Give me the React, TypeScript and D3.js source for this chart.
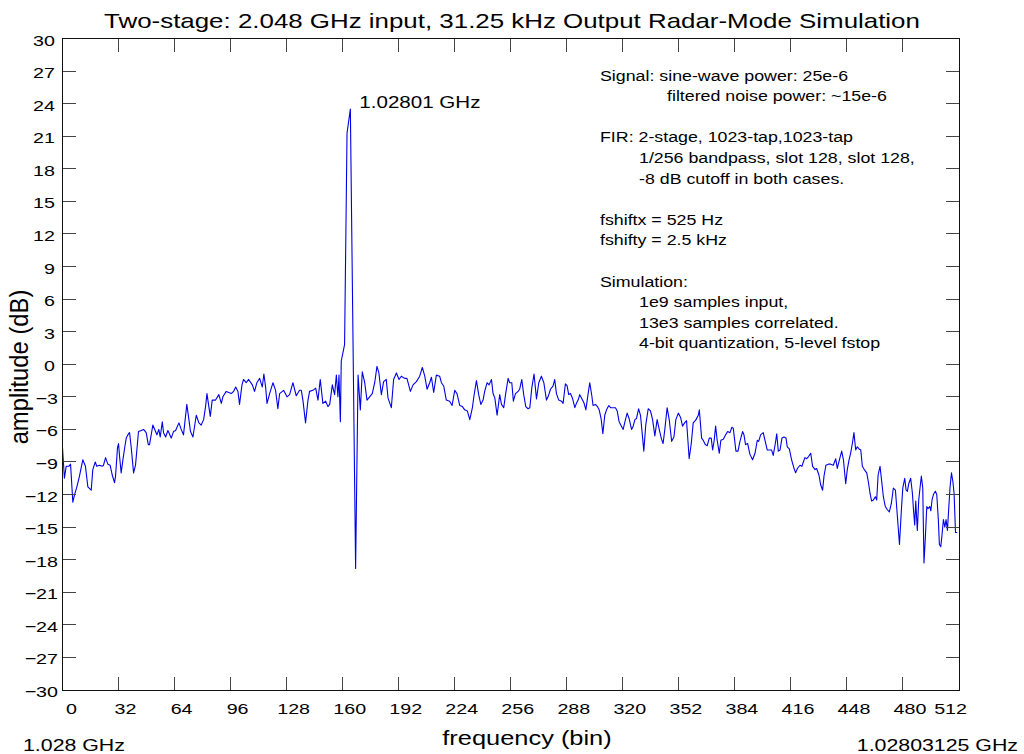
import React from "react";
import * as d3 from "d3";

// ---- data ----
const freqBins = [
  0, 1.1, 2.1, 3.6, 4.6, 5.9, 6.9, 8.2, 9.7, 11.2, 11.6, 13.1, 14.5, 15.8, 16.4, 17.3, 18.7, 19.6, 21.1, 22.7, 23.4, 24.6, 25.9, 27.2, 28.4, 29.7, 30.3, 31.4, 32.0, 32.6, 33.5, 34.5, 35.6, 36.4, 37.7, 38.3, 39.2, 40.6, 41.7, 43.4, 45.0, 46.3, 47.8, 49.0, 49.7, 51.6, 53.9, 55.0, 55.8, 57.0, 57.7, 58.9, 60.2, 62.1, 63.4, 64.6, 66.5, 67.8, 69.1, 71.0, 72.2, 73.1, 74.5, 76.4, 77.9, 79.2, 80.6, 81.7, 82.5, 84.4, 85.5, 87.4, 89.3, 90.7, 91.6, 93.5, 95.0, 96.4, 97.7, 98.9, 100.2, 101.1, 102.5, 103.4, 104.9, 106.3, 108.4, 109.7, 111.0, 112.6, 114.1, 115.0, 116.0, 116.8, 118.3, 120.2, 121.7, 123.0, 124.0, 126.3, 128.2, 129.7, 131.6, 133.5, 135.4,
  136.4, 137.3, 138.8, 140.2, 141.1, 143.0, 144.6, 145.9, 147.2, 148.7, 150.3, 151.6, 152.6, 154.1, 155.4, 156.4, 157.3, 157.9, 158.7, 159.2, 161.1, 162.5, 164.4, 167.4, 168.8, 170.1, 171.2, 172.6, 173.9, 175.4, 176.9, 178.3, 179.6, 180.7, 182.1, 183.4, 184.9, 185.9, 187.8, 189.1, 190.7, 192.2, 193.5, 195.4, 196.7, 198.7, 200.2, 202.1, 204.0,
  205.5, 206.9, 208.2, 209.7, 210.7, 212.0, 213.5, 215.4, 216.4, 217.7, 219.2, 221.1, 222.5, 224.0, 225.3, 226.9, 228.4, 229.7, 231.2, 232.6, 234.1, 235.0, 236.4, 237.7, 238.9, 240.2, 241.1, 242.5, 243.6, 245.0, 245.9, 246.9, 248.2, 249.7, 250.7, 252.0, 253.1, 254.5, 255.4, 256.6, 257.5, 258.7, 260.2, 261.1, 262.3, 263.4, 264.6, 265.9, 266.9, 268.0, 269.3, 270.7, 272.0, 273.5, 274.9, 276.4, 277.3, 278.7, 280.2, 281.1, 282.1, 283.4, 285.0, 285.9, 287.2, 288.2, 289.1, 290.1, 291.2, 292.6, 293.5, 294.5, 295.4, 297.0, 297.9, 298.9, 300.2, 301.1, 302.3, 303.0, 304.4, 305.5, 306.5, 307.6, 308.6, 309.7, 310.7, 312.0, 313.0, 314.5, 315.8, 316.8, 317.9, 319.2, 320.2, 321.5, 322.5, 323.6, 325.0, 325.9, 326.9, 327.8, 329.0, 330.1, 331.2, 332.0, 333.1, 334.5, 335.8, 337.0, 338.3, 339.6, 340.8, 342.1, 343.0, 344.0, 345.3, 346.5,
  347.9, 349.2, 350.3, 351.7, 353.0, 354.1, 355.3, 356.4, 357.9, 359.1, 360.2, 361.8, 363.1, 363.7, 365.0, 365.9, 367.1, 368.2, 369.4, 370.5, 371.3, 372.2, 373.0, 373.9, 375.1, 376.0, 377.4, 378.7, 379.9, 381.2, 382.3, 383.1, 384.6, 385.8, 386.9, 388.4, 389.2, 390.1, 391.3, 392.6, 394.1, 395.5, 396.8, 397.6, 398.7, 400.2, 401.2, 402.5, 404.0, 405.0, 405.9, 407.1, 407.9, 408.8, 409.8, 410.9, 412.0, 413.2, 413.9, 415.1, 416.4, 417.8, 418.7, 419.7, 421.2, 422.3, 423.1, 424.0, 425.0, 426.1, 427.3, 428.4, 429.8, 430.7, 432.0, 433.0, 434.1, 434.9, 436.0, 437.4, 438.7, 440.2, 441.6, 442.5, 443.7, 445.0, 446.0, 447.3, 448.2, 449.2, 450.1, 451.1, 452.0, 453.0, 453.9, 454.9, 455.9, 456.8, 457.9, 459.3, 460.2, 461.2, 462.1, 463.1, 464.2, 465.0, 465.8, 466.9, 468.0, 468.8, 469.9, 471.1, 472.2, 473.4, 474.5, 475.7, 476.8, 478.0, 479.1, 479.9, 481.0, 481.8, 482.5, 483.3, 484.4, 485.4, 486.0, 486.7, 487.3, 488.2, 489.0, 489.8, 490.5, 491.3, 492.0, 492.8, 493.6, 494.3, 495.3, 495.9, 496.6, 497.4, 498.5, 499.3, 500.2, 500.8, 501.6, 502.3, 503.1, 503.9, 504.6, 505.4, 506.2, 506.9, 507.7, 508.5, 509.2, 510.0, 511.0,
];

const amplitudeDb = [
  -7.7, -10.5, -9.4, -9.4, -9.2, -12.7, -12.0, -11.3, -10.3, -9.1, -8.8, -9.4, -11.3, -11.5, -11.6, -9.7, -9.0, -9.4, -9.3, -9.4, -9.3, -8.6, -9.2, -9.3, -10.2, -10.9, -10.3, -7.7, -7.3, -8.5, -10.0, -8.8, -7.6, -6.8, -6.4, -6.3, -7.6, -10.0, -9.3, -6.2, -6.1, -6.0, -6.3, -7.4, -7.4, -5.6, -6.5, -6.0, -6.7, -5.3, -6.3, -6.7, -6.1, -6.8, -6.2, -6.1, -5.4, -6.0, -6.5, -3.7, -5.1, -6.2, -6.7, -4.7, -5.4, -5.6, -5.1, -3.9, -2.7, -4.8, -3.3, -3.3, -2.8, -3.6, -3.0, -2.5, -2.6, -2.7, -2.5, -2.1, -2.5, -3.7, -1.9, -1.4, -1.7, -1.4, -1.9, -2.5, -1.7, -1.3, -2.1, -0.9, -2.1, -3.6, -2.7, -1.7, -2.4, -4.1, -2.7, -2.4, -3.0, -2.8, -1.7, -2.9, -2.4,
  -2.4, -3.3, -5.4, -3.3, -2.5, -2.4, -2.2, -3.3, -1.4, -3.6, -3.4, -3.9, -3.7, -1.9, -2.8, -1.0, -3.0, -1.0, -5.3, 0.3, 1.8, 21.3, 23.5, -18.8, -1.0, -4.2, -0.7, -1.7, -3.3, -3.0, -2.7, -1.7, -0.2, -0.8, -2.8, -1.6, -1.4, -3.1, -4.0, -1.4, -0.8, -1.4, -1.1, -1.3, -1.3, -2.5, -1.9, -1.6, -1.1,
  -0.3, -1.1, -2.3, -1.7, -1.2, -2.6, -1.0, -1.1, -1.7, -2.0, -3.3, -3.4, -3.8, -2.4, -2.7, -3.8, -3.9, -4.2, -4.3, -5.1, -4.0, -2.9, -1.5, -2.8, -3.7, -3.3, -2.5, -1.7, -1.9, -1.4, -2.7, -3.1, -4.7, -2.8, -3.7, -4.0, -2.7, -1.3, -1.7, -1.7, -3.4, -2.7, -2.5, -2.3, -1.4, -2.8, -3.9, -4.1, -4.0, -2.2, -0.9, -3.2, -1.7, -1.1, -1.7, -3.3, -3.0, -2.3, -2.0, -1.4, -2.7, -3.3, -3.4, -3.6, -1.8, -2.0, -2.8, -2.7, -3.1, -4.0, -3.6, -3.3, -2.8, -3.3, -3.6, -4.2, -2.7, -1.7, -2.9, -3.8, -3.7, -3.9, -4.2, -5.0, -6.4, -4.7, -4.2, -3.8, -4.0, -4.0, -4.0, -4.3, -5.3, -5.7, -6.0, -5.1, -4.5, -5.0, -6.0, -5.7, -5.1, -5.0, -4.1, -4.7, -6.6, -8.0, -5.6, -4.1, -4.3, -5.1, -6.6, -5.1, -6.0, -6.9, -7.3, -6.0, -4.0, -5.1,
  -7.1, -6.7, -5.1, -4.5, -4.9, -5.7, -5.4, -5.2, -8.7, -7.3, -5.4, -5.1, -4.7, -4.2, -6.8, -7.0, -7.4, -7.5, -6.8, -6.8, -7.9, -7.0, -5.7, -7.0, -8.2, -7.0, -6.9, -6.5, -6.2, -6.3, -5.8, -5.9, -8.0, -8.0, -7.1, -6.2, -6.5, -7.4, -7.3, -8.3, -8.8, -8.2, -7.0, -7.1, -6.5, -6.3, -7.0, -7.9, -7.9, -7.9, -8.4, -7.3, -6.4, -8.0, -7.9, -6.8, -6.7, -6.8, -7.6, -7.8, -8.8, -9.6, -10.0, -9.6, -9.3, -9.4, -9.0, -8.6, -8.7, -8.5, -8.2, -9.4, -9.7, -9.6, -10.2, -11.1, -11.6, -10.3, -9.3, -9.2, -9.2, -9.3, -8.7, -9.6, -8.8, -8.0, -8.8, -11.0, -9.7, -8.8, -8.2, -7.3, -6.3, -7.9, -7.6, -7.8, -7.9, -9.4, -9.7, -10.0, -10.8, -11.9, -12.6, -12.5, -12.2, -12.5, -10.2, -9.4, -11.0, -12.2, -13.1, -13.4, -13.6, -12.8, -11.4, -11.6, -14.0, -16.6, -13.4, -11.4, -10.5, -11.6, -11.7, -11.0, -10.5, -11.9, -13.4, -14.8, -12.6, -15.3, -12.5, -11.3, -10.3, -11.4, -18.3, -15.9, -13.1, -13.3, -13.1, -13.5, -12.5, -12.0, -11.7, -12.0, -14.3, -16.6, -16.8, -15.7, -14.3, -15.0, -14.3, -15.3, -13.1, -11.3, -10.0, -10.8, -11.9, -15.5, -15.5,
];

const xTickValues = [0, 32, 64, 96, 128, 160, 192, 224, 256, 288, 320, 352, 384, 416, 448, 480, 512];
const yTickValues = [-30, -27, -24, -21, -18, -15, -12, -9, -6, -3, 0, 3, 6, 9, 12, 15, 18, 21, 24, 27, 30];

const titleText = "Two-stage: 2.048 GHz input, 31.25 kHz Output Radar-Mode Simulation";
const xLabelText = "frequency (bin)";
const yLabelText = "amplitude (dB)";
const startFreqText = "1.028 GHz";
const endFreqText = "1.02803125 GHz";
const peakLabelText = "1.02801 GHz";
const peakBin = 164.4;
const peakDb = 23.5;

// annotation lines (null = blank line)
const noteLines: (string | null)[] = [
  "Signal: sine-wave power: 25e-6",
  "filtered noise power: ~15e-6",
  null,
  "FIR: 2-stage, 1023-tap,1023-tap",
  "1/256 bandpass, slot 128, slot 128,",
  "-8 dB cutoff in both cases.",
  null,
  "fshiftx = 525 Hz",
  "fshifty = 2.5 kHz",
  null,
  "Simulation:",
  "1e9 samples input,",
  "13e3 samples correlated.",
  "4-bit quantization, 5-level fstop",
];
const noteIndent = [0, 2, 0, 0, 1, 1, 0, 0, 0, 0, 0, 1, 1, 1];

// ---- layout ----
const W = 1024;
const H = 754;
const L = 62.5;
const R = 959;
const T = 38.5;
const B = 690;
const SX = 1.27; // horizontal stretch of the lettering
const FONT = "'Liberation Sans', Arial, Helvetica, sans-serif";
const LINE = "#0000e8";

function SText({ x, y, size, anchor = "start", children, sx = SX }: any) {
  return (
    <text
      transform={`translate(${x},${y}) scale(${sx},1)`}
      fontSize={size}
      textAnchor={anchor}
      fill="#000"
      fontFamily={FONT}
    >
      {children}
    </text>
  );
}

export default function App() {
  const x = d3.scaleLinear().domain([0, 512]).range([L, R]);
  const y = d3.scaleLinear().domain([-30, 30]).range([B, T]);
  const fmt = d3.format("d");

  const pts: [number, number][] = freqBins.map((b, i) => [b, amplitudeDb[i]]);
  const line = d3
    .line<[number, number]>()
    .x((d) => x(d[0]))
    .y((d) => y(d[1]));

  const tickLen = 13;
  const noteX = [600, 639, 667];

  return (
    <svg
      width={W}
      height={H}
      style={{ position: "absolute", left: 0, top: 0, display: "block", background: "#fff" }}
    >
      <rect x={0} y={0} width={W} height={H} fill="#fff" />

      {/* data */}
      <path d={line(pts) || ""} fill="none" stroke={LINE} strokeWidth={1.1} strokeLinejoin="round" />

      {/* ticks */}
      <g stroke="#444" strokeWidth={1} shapeRendering="crispEdges">
        {yTickValues.map((v) => (
          <g key={"yt" + v}>
            <line x1={L} x2={L + tickLen} y1={y(v)} y2={y(v)} />
            <line x1={R - tickLen} x2={R} y1={y(v)} y2={y(v)} />
          </g>
        ))}
        {xTickValues.map((v) => (
          <g key={"xt" + v}>
            <line x1={x(v)} x2={x(v)} y1={B} y2={B - tickLen} />
            <line x1={x(v)} x2={x(v)} y1={T} y2={T + tickLen} />
          </g>
        ))}
      </g>

      {/* frame */}
      <rect x={L} y={T} width={R - L} height={B - T} fill="none" stroke="#111" strokeWidth={1} shapeRendering="crispEdges" />

      {/* y tick labels */}
      {yTickValues.map((v) => (
        <SText key={"yl" + v} x={v < 0 ? 58 : 55} y={y(v) + 7} size={15.5} anchor="end">
          {fmt(v)}
        </SText>
      ))}

      {/* x tick labels */}
      {xTickValues.map((v, i) => {
        const last = i === xTickValues.length - 1;
        const first = i === 0;
        return (
          <SText
            key={"xl" + v}
            x={last ? 967 : x(v) + (first ? 9 : 7)}
            y={714}
            size={15.5}
            anchor={last ? "end" : "middle"}
          >
            {fmt(v)}
          </SText>
        );
      })}

      {/* title */}
      <SText x={512} y={28} size={20.4} anchor="middle">
        {titleText}
      </SText>

      {/* axis labels */}
      <SText x={527} y={745} size={20} anchor="middle">
        {xLabelText}
      </SText>
      <text
        transform={`translate(28,367) rotate(-90) scale(1.19,1.27)`}
        fontSize={20}
        textAnchor="middle"
        fontFamily={FONT}
        fill="#000"
      >
        {yLabelText}
      </text>

      <SText x={23} y={751} size={16.8}>
        {startFreqText}
      </SText>
      <SText x={1018} y={751} size={16.8} anchor="end">
        {endFreqText}
      </SText>

      {/* peak label */}
      <SText x={x(peakBin) + 9} y={y(peakDb) - 1.5} size={16.2}>
        {peakLabelText}
      </SText>

      {/* notes */}
      {noteLines.map((t, i) =>
        t ? (
          <SText key={"n" + i} x={noteX[noteIndent[i]]} y={80.5 + i * 20.6} size={14}>
            {t}
          </SText>
        ) : null
      )}
    </svg>
  );
}
